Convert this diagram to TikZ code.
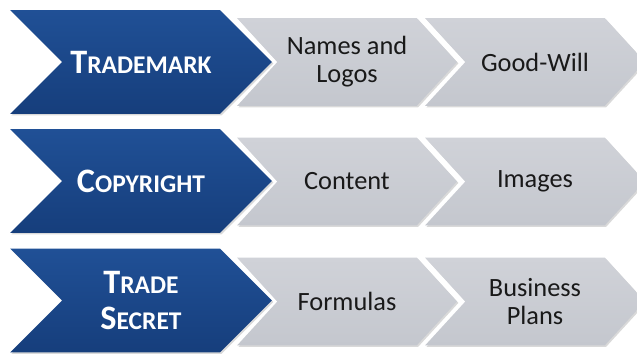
\documentclass[tikz,border=0pt]{standalone}
\usepackage{fontspec}
\setmainfont{Carlito}
\usetikzlibrary{shapes.symbols,shadows}

\definecolor{bluetop}{RGB}{32,80,150}
\definecolor{bluebot}{RGB}{22,62,124}
\definecolor{graytop}{RGB}{208,210,216}
\definecolor{graybot}{RGB}{196,199,206}

\newcommand{\capsword}[2]{{\fontsize{19.5}{22}\selectfont #1}{\fontsize{14.5}{17}\selectfont #2}}

\tikzset{
    mainarrow/.style={signal, signal from=west, signal to=east,
        signal pointer angle=90, minimum width=5.24cm, minimum height=2.08cm,
        inner sep=0pt, top color=bluetop, bottom color=bluebot,
        text=white, align=center, font=\bfseries\fontsize{19.5}{21}\selectfont,
        drop shadow={opacity=0.3, shadow xshift=0.8pt, shadow yshift=-0.8pt}},
    subarrow/.style={signal, signal from=west, signal to=east,
        signal pointer angle=95, minimum width=4.4cm, minimum height=1.76cm,
        inner sep=0pt, top color=graytop, bottom color=graybot,
        text=black!90, align=center, font=\fontsize{15}{16}\selectfont,
        drop shadow={opacity=0.3, shadow xshift=0.8pt, shadow yshift=-0.8pt}}
}

\begin{document}
\begin{tikzpicture}[x=0.02cm, y=-0.02cm]
    \useasboundingbox (0,0) rectangle (637,353);
    \node[subarrow] (names) at (347,62) {Names and\\Logos};
    \node[subarrow] (goodwill) at (535,62) {Good-Will};
    \node[mainarrow] (trademark) at (141,62) {\capsword{T}{RADEMARK}};
    \node[subarrow] (content) at (347,181.5) {Content};
    \node[subarrow] (images) at (535,181.5) {Images};
    \node[mainarrow] (copyright) at (141,181) {\capsword{C}{OPYRIGHT}};
    \node[subarrow] (formulas) at (347,301.5) {Formulas};
    \node[subarrow] (plans) at (535,301.5) {Business\\Plans};
    \node[mainarrow] (secret) at (141,300.5) {\capsword{T}{RADE}\\\capsword{S}{ECRET}};
\end{tikzpicture}
\end{document}
